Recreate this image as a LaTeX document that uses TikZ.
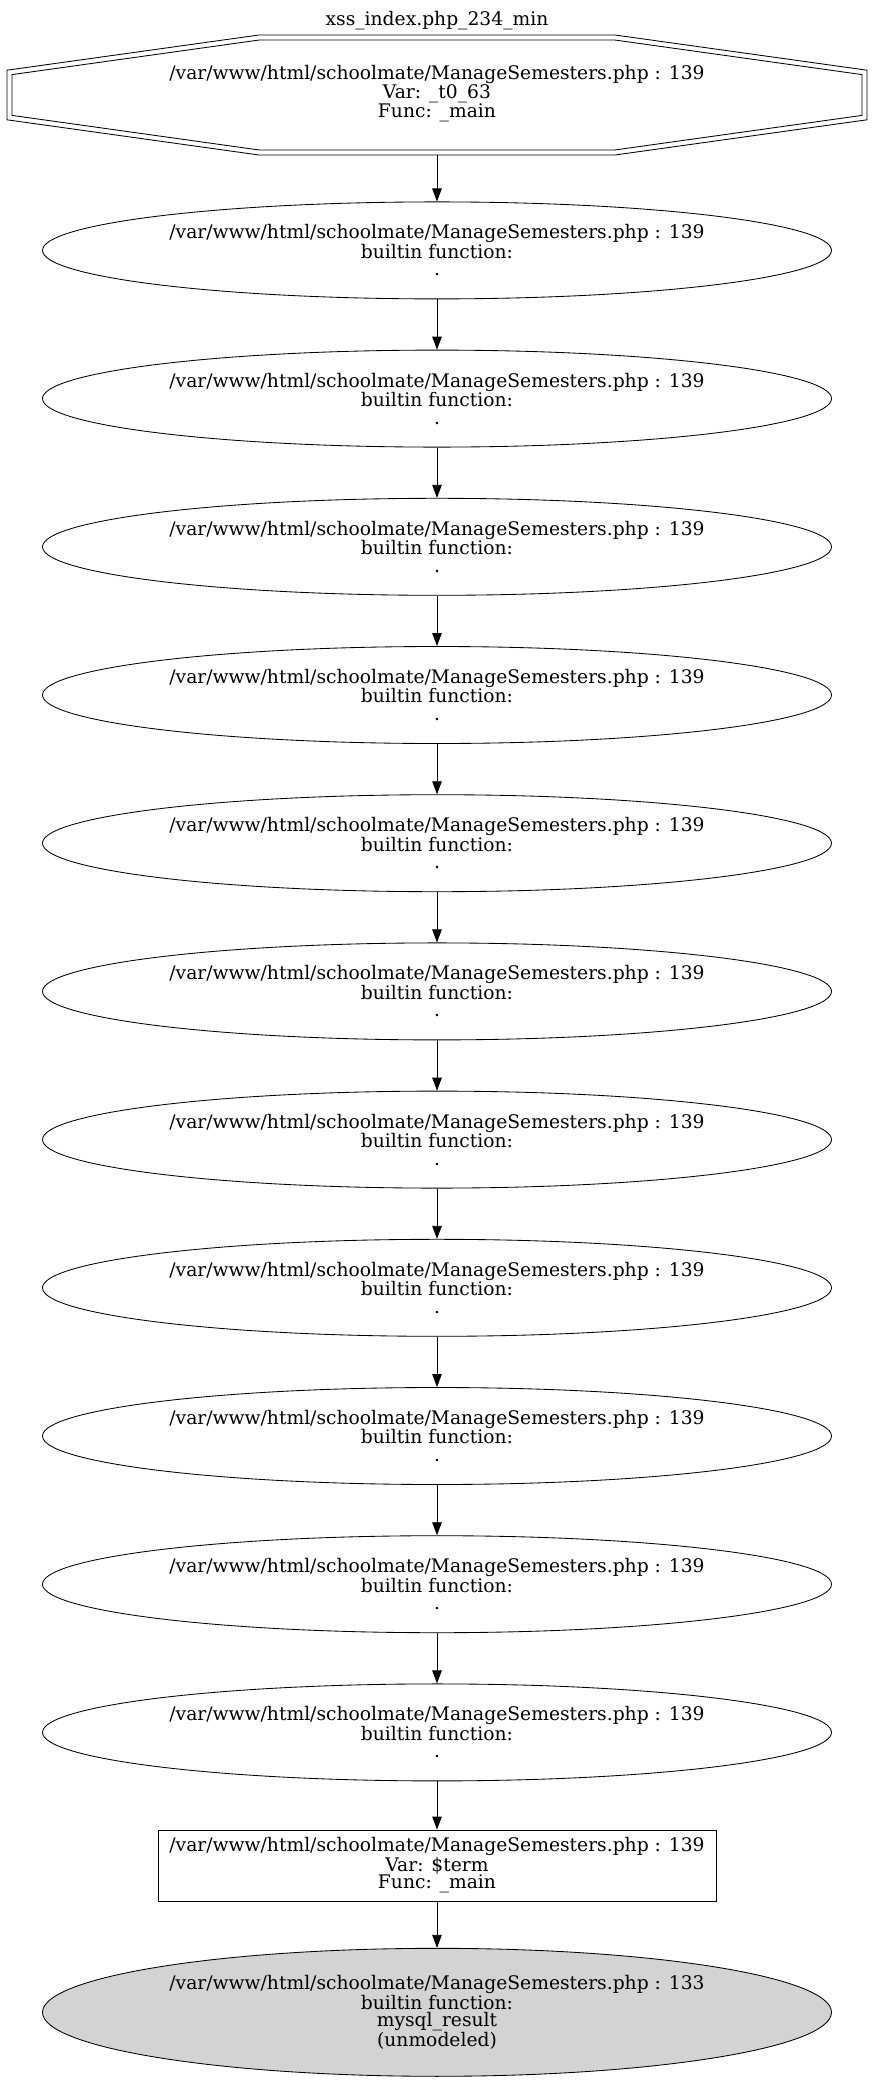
\documentclass[tikz,border=0pt]{standalone}
\usepackage{fontspec}
\setmainfont{DejaVu Serif}
\usetikzlibrary{arrows.meta,shapes.geometric}
\definecolor{nodegray}{RGB}{211,211,211}
\newcommand{\lblfont}{\fontsize{18.7}{17.5}\selectfont}
\tikzset{
  lbl/.style={align=center, font=\lblfont, inner sep=0pt},
  fnode/.style={ellipse, draw, line width=0.85pt, minimum width=789pt, minimum height=97pt, lbl},
  varbox/.style={rectangle, draw, line width=0.85pt, minimum width=558pt, minimum height=71pt, lbl},
  sinknode/.style={ellipse, draw, line width=0.85pt, fill=nodegray, minimum width=789pt, minimum height=128pt, lbl},
  edge/.style={line width=0.85pt, -{Triangle[length=13pt,width=9.5pt]}},
  octline/.style={line width=0.85pt}
}
\begin{document}
\begin{tikzpicture}[x=1pt,y=-1pt]
\useasboundingbox (0,0) rectangle (874,2082);

% graph title
\node[lbl] (title) at (437,21) {xss\_index.php\_234\_min};

% source node: double octagon
\node[lbl, minimum width=860pt, minimum height=120pt] (n0) at (437,94)
  {/var/www/html/schoolmate/ManageSemesters.php : 139\\Var: \_t0\_63\\Func: \_main};
\draw[octline, shift={(437,95)}]
  (-178,-60) -- (178,-60) -- (430,-24.8) -- (430,24.8) -- (178,60) -- (-178,60)
  -- (-430,24.8) -- (-430,-24.8) -- cycle;
\draw[octline, shift={(437,95)}]
  (-177.7,-55) -- (177.7,-55) -- (425,-20.4) -- (425,20.4) -- (177.7,55) -- (-177.7,55)
  -- (-425,20.4) -- (-425,-20.4) -- cycle;
\coordinate (n0s) at (437,155);

% chain of builtin function nodes
\foreach \i in {1,...,11}{
  \node[fnode] (n\i) at (437,{250.4+148.2*(\i-1)})
    {/var/www/html/schoolmate/ManageSemesters.php : 139\\builtin function:\\.};
}

% variable node and sink
\node[varbox] (n12) at (437,1865.5)
  {/var/www/html/schoolmate/ManageSemesters.php : 139\\Var: \$term\\Func: \_main};
\node[sinknode] (n13) at (437,2012.3)
  {/var/www/html/schoolmate/ManageSemesters.php : 133\\builtin function:\\mysql\_result\\(unmodeled)};

% connectors
\draw[edge] (n0s) -- (n1);
\foreach \a/\b in {1/2,2/3,3/4,4/5,5/6,6/7,7/8,8/9,9/10,10/11,11/12,12/13}{
  \draw[edge] (n\a) -- (n\b);
}
\end{tikzpicture}
\end{document}
